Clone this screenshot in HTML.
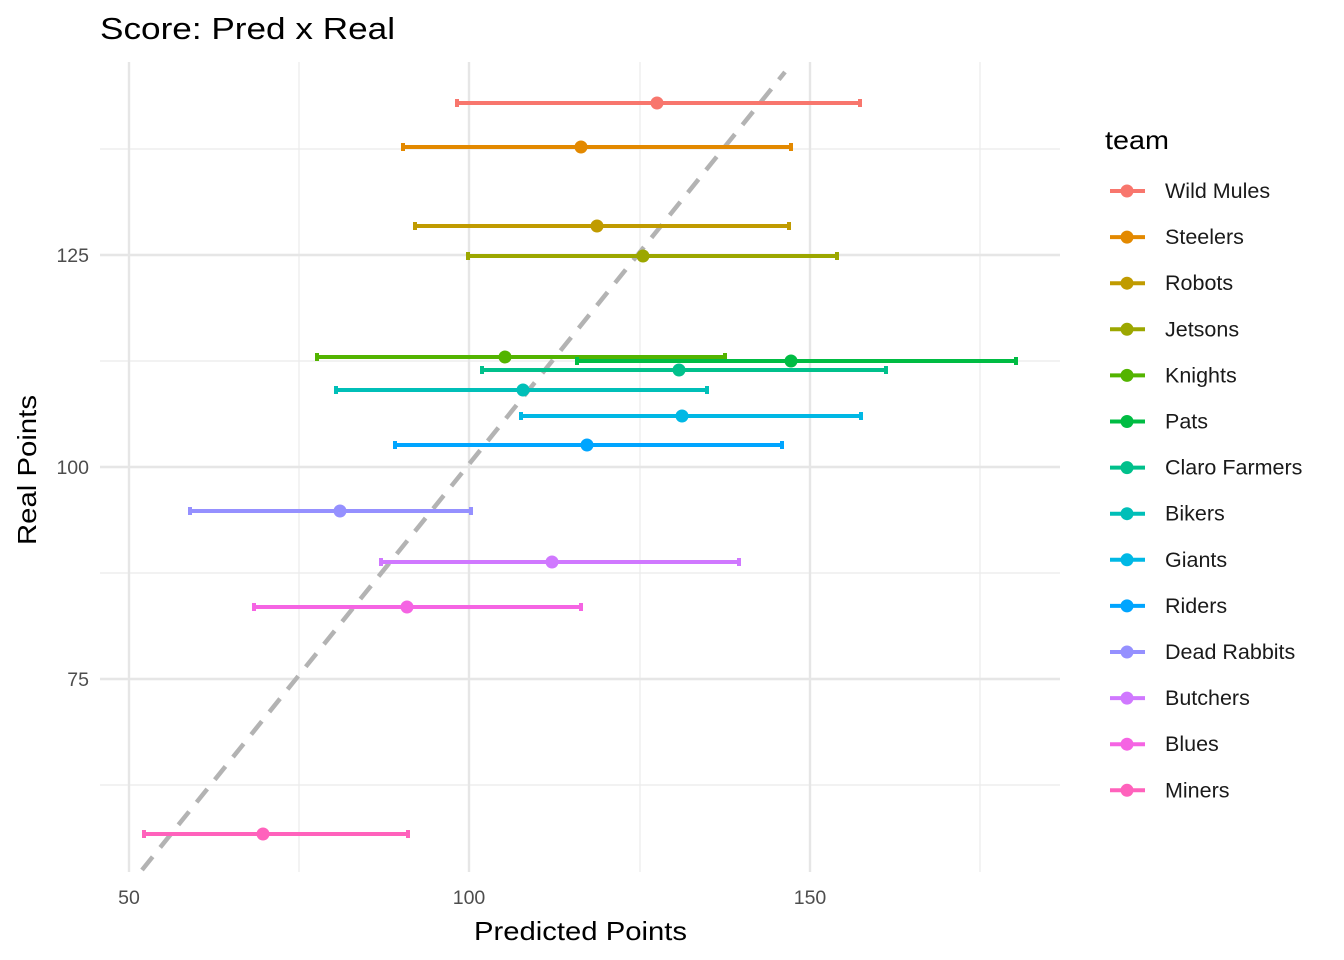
<!DOCTYPE html>
<html><head><meta charset="utf-8"><style>body{margin:0;background:#fff}svg{display:block}text{font-family:"Liberation Sans",Arial,sans-serif}</style></head><body>
<svg width="1344" height="960" viewBox="0 0 1344 960">
<rect width="1344" height="960" fill="#fff"/>
<g stroke="#EBEBEB" stroke-width="1.2">
<line x1="299" y1="62" x2="299" y2="872"/><line x1="640" y1="62" x2="640" y2="872"/><line x1="980" y1="62" x2="980" y2="872"/>
<line x1="100" y1="149" x2="1060" y2="149"/><line x1="100" y1="361" x2="1060" y2="361"/><line x1="100" y1="573" x2="1060" y2="573"/><line x1="100" y1="785" x2="1060" y2="785"/>
</g>
<g stroke="#E6E6E6" stroke-width="2.4">
<line x1="129" y1="62" x2="129" y2="872"/><line x1="469" y1="62" x2="469" y2="872"/><line x1="810" y1="62" x2="810" y2="872"/>
<line x1="100" y1="255" x2="1060" y2="255"/><line x1="100" y1="467" x2="1060" y2="467"/><line x1="100" y1="679" x2="1060" y2="679"/>
</g>
<line x1="142" y1="870" x2="785" y2="72" stroke="#B3B3B3" stroke-width="4.5" stroke-dasharray="17,12"/>
<g stroke-width="4" id="bars"></g>
<g font-size="19.5" fill="#4D4D4D">
<text x="129" y="904" text-anchor="middle">50</text><text x="469" y="904" text-anchor="middle">100</text><text x="810" y="904" text-anchor="middle">150</text>
<text x="89" y="262" text-anchor="end">125</text><text x="89" y="474" text-anchor="end">100</text><text x="89" y="686" text-anchor="end">75</text>
</g>
<text x="474" y="940" font-size="26" textLength="213" lengthAdjust="spacingAndGlyphs">Predicted Points</text>
<text x="36" y="545" font-size="26" transform="rotate(-90 36 545)" textLength="150" lengthAdjust="spacingAndGlyphs">Real Points</text>
<text x="100" y="39" font-size="31" textLength="295" lengthAdjust="spacingAndGlyphs">Score: Pred x Real</text>
<text x="1105" y="149" font-size="26" textLength="64" lengthAdjust="spacingAndGlyphs">team</text>
<g id="leg" font-size="21.5"></g>
</svg>
<script>
var d=[["Wild Mules",103,457,860,657,"#F8766D"],["Steelers",147,403,791,581,"#E38900"],["Robots",226,415,789,597,"#C09B00"],["Jetsons",256,468,837,643,"#9CA700"],["Knights",357,317,725,505,"#53B400"],["Pats",361,577,1016,791,"#00BC43"],["Claro Farmers",370,482,886,679,"#00C08B"],["Bikers",390,336,707,523,"#00BFB8"],["Giants",416,521,861,682,"#00B8E5"],["Riders",445,395,782,587,"#00A5FF"],["Dead Rabbits",511,190,471,340,"#9590FF"],["Butchers",562,381,739,552,"#D078FF"],["Blues",607,254,581,407,"#F564E3"],["Miners",834,144,408,263,"#FF62BC"]];
var ns="http://www.w3.org/2000/svg",b=document.getElementById("bars"),l=document.getElementById("leg");
function el(p,t,a){var e=document.createElementNS(ns,t);for(var k in a)e.setAttribute(k,a[k]);p.appendChild(e);return e;}
d.forEach(function(r,i){
el(b,"line",{x1:r[2],x2:r[3],y1:r[1],y2:r[1],stroke:r[5]});
el(b,"line",{x1:r[2],x2:r[2],y1:r[1]-4,y2:r[1]+4,stroke:r[5]});
el(b,"line",{x1:r[3],x2:r[3],y1:r[1]-4,y2:r[1]+4,stroke:r[5]});
el(b,"circle",{cx:r[4],cy:r[1],r:6.5,fill:r[5],stroke:"none"});
var y=191+46.1*i;
el(l,"line",{x1:1110,x2:1145,y1:y,y2:y,stroke:r[5],"stroke-width":4});
el(l,"circle",{cx:1127,cy:y,r:6.5,fill:r[5]});
var t=el(l,"text",{x:1165,y:y+7,fill:"#1A1A1A"});t.textContent=r[0];
});
</script>
</body></html>
